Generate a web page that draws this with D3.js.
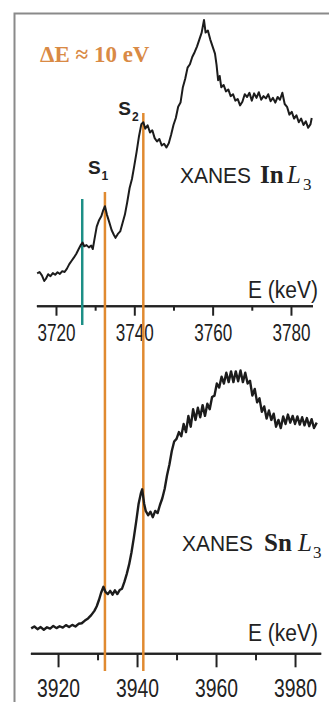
<!DOCTYPE html>
<meta charset="utf-8">
<style>
body { margin: 0; background: #fff; }
.axis path, .axis line { stroke: #222; stroke-width: 2; }
.axis text { font-family: "Liberation Sans", Arial, sans-serif; fill: #222; }
.curve { fill: none; stroke: #1c1c1c; stroke-width: 2; stroke-linejoin: round; }
.sans { font-family: "Liberation Sans", Arial, sans-serif; fill: #222; }
.serif { font-family: "Liberation Serif", "Times New Roman", serif; fill: #222; }
</style>
<body>
<script src="https://d3js.org/d3.v7.min.js"></script>
<script>

// In L3 edge, [energy (eV), normalised absorption]
var inL3 = [
  [3715.2,0.095],[3715.8,0.100],[3716.4,0.088],[3717.0,0.068],[3717.4,0.075],[3718.0,0.092],
  [3718.6,0.085],[3719.2,0.096],[3719.8,0.090],[3720.4,0.099],[3721.0,0.093],[3721.6,0.103],
  [3722.2,0.100],[3722.8,0.112],[3723.4,0.128],[3724.0,0.140],[3724.6,0.152],[3725.2,0.165],
  [3725.8,0.182],[3726.4,0.198],[3726.8,0.205],[3727.2,0.192],[3727.8,0.196],[3728.4,0.188],
  [3729.0,0.194],[3729.4,0.182],[3729.8,0.215],[3730.4,0.262],[3731.0,0.285],[3731.6,0.300],
  [3732.0,0.318],[3732.5,0.335],[3733.0,0.305],[3733.6,0.278],[3734.2,0.250],[3734.8,0.232],
  [3735.2,0.222],[3735.8,0.236],[3736.4,0.245],[3737.0,0.275],[3737.6,0.305],[3738.2,0.350],
  [3738.8,0.400],[3739.4,0.432],[3740.0,0.480],[3740.6,0.530],[3741.2,0.585],[3741.8,0.628],
  [3742.3,0.635],[3742.8,0.612],[3743.4,0.624],[3744.0,0.598],[3744.6,0.606],[3745.2,0.578],
  [3745.8,0.566],[3746.4,0.575],[3747.0,0.552],[3747.6,0.558],[3748.2,0.545],[3748.8,0.560],
  [3749.4,0.590],[3750.0,0.625],[3750.6,0.650],[3751.2,0.690],[3751.8,0.705],[3752.4,0.760],
  [3753.0,0.790],[3753.6,0.830],[3754.2,0.842],[3754.8,0.868],[3755.4,0.885],[3756.0,0.905],
  [3756.6,0.930],[3757.2,0.955],[3757.8,1.000],[3758.2,0.955],[3758.8,0.962],[3759.4,0.930],
  [3760.0,0.905],[3760.6,0.880],[3761.0,0.840],[3761.4,0.785],[3761.8,0.800],[3762.2,0.760],
  [3762.8,0.768],[3763.4,0.745],[3764.0,0.752],[3764.6,0.728],[3765.2,0.735],[3765.8,0.712],
  [3766.4,0.718],[3767.0,0.695],[3767.6,0.708],[3768.2,0.735],[3768.8,0.725],[3769.4,0.740],
  [3770.0,0.712],[3770.6,0.738],[3771.2,0.722],[3771.8,0.742],[3772.4,0.715],[3773.0,0.728],
  [3773.6,0.720],[3774.2,0.735],[3774.8,0.710],[3775.4,0.722],[3776.0,0.705],[3776.6,0.725],
  [3777.2,0.715],[3777.8,0.740],[3778.4,0.700],[3779.0,0.690],[3779.6,0.662],[3780.2,0.672],
  [3780.8,0.648],[3781.4,0.660],[3782.0,0.635],[3782.6,0.648],[3783.2,0.625],[3783.8,0.638],
  [3784.4,0.615],[3785.0,0.628],[3785.3,0.650]
];

// Sn L3 edge
var snL3 = [
  [3913.2,0.043],[3914.0,0.050],[3914.8,0.040],[3915.6,0.048],[3916.4,0.038],[3917.2,0.047],
  [3918.0,0.042],[3918.8,0.052],[3919.6,0.044],[3920.4,0.051],[3921.2,0.046],[3922.0,0.055],
  [3922.8,0.048],[3923.6,0.056],[3924.4,0.050],[3925.2,0.060],[3926.0,0.062],[3926.8,0.072],
  [3927.6,0.080],[3928.4,0.092],[3929.2,0.108],[3929.8,0.125],[3930.4,0.150],[3930.9,0.175],
  [3931.5,0.197],[3932.0,0.178],[3932.6,0.170],[3933.2,0.182],[3933.8,0.168],[3934.4,0.184],
  [3935.0,0.170],[3935.6,0.185],[3936.2,0.190],[3936.8,0.215],[3937.4,0.245],[3938.0,0.280],
  [3938.6,0.325],[3939.2,0.380],[3939.8,0.440],[3940.4,0.505],[3941.0,0.545],[3941.3,0.558],
  [3941.8,0.505],[3942.2,0.478],[3942.8,0.462],[3943.4,0.475],[3944.0,0.455],[3944.6,0.478],
  [3945.2,0.470],[3945.8,0.500],[3946.4,0.525],[3947.0,0.560],[3947.6,0.610],[3948.2,0.650],
  [3948.8,0.700],[3949.4,0.735],[3950.0,0.745],[3950.6,0.770],[3951.2,0.755],[3951.8,0.800],
  [3952.4,0.770],[3953.0,0.830],[3953.6,0.790],[3954.2,0.855],[3954.8,0.815],[3955.4,0.860],
  [3956.0,0.825],[3956.6,0.870],[3957.2,0.830],[3957.8,0.875],[3958.4,0.855],[3959.0,0.900],
  [3959.6,0.905],[3960.2,0.950],[3960.8,0.935],[3961.4,0.975],[3962.0,0.950],[3962.6,0.990],
  [3963.2,0.955],[3963.8,0.995],[3964.4,0.955],[3965.0,0.995],[3965.6,0.958],[3966.2,0.998],
  [3966.8,0.955],[3967.4,0.990],[3968.0,0.950],[3968.6,0.960],[3969.2,0.905],[3969.8,0.930],
  [3970.4,0.880],[3971.0,0.895],[3971.6,0.845],[3972.2,0.865],[3972.8,0.820],[3973.4,0.850],
  [3974.0,0.815],[3974.6,0.838],[3975.2,0.790],[3975.8,0.815],[3976.4,0.785],[3977.0,0.828],
  [3977.6,0.800],[3978.2,0.835],[3978.8,0.805],[3979.4,0.830],[3980.0,0.800],[3980.6,0.828],
  [3981.2,0.798],[3981.8,0.825],[3982.4,0.795],[3983.0,0.822],[3983.6,0.792],[3984.2,0.818],
  [3984.8,0.785],[3985.5,0.805]
];

var inMajor = [3720, 3740, 3760, 3780], inMinor = [3730, 3750, 3770];
var snMajor = [3920, 3940, 3960, 3980], snMinor = [3930, 3950, 3970];

// marker energies (on the In scale)
var edgeE = 3726.7, s1E = 3732.5, s2E = 3742.3;

var svg = d3.select("body").append("svg")
    .attr("width", 329)
    .attr("height", 702);

// frame
svg.append("rect")
    .attr("x", 14.5).attr("y", 13.5)
    .attr("width", 340).attr("height", 720)
    .attr("fill", "none")
    .attr("stroke", "#8a8a8a")
    .attr("stroke-width", 2);

var xIn = d3.scaleLinear().domain([3715, 3785.5]).range([36.4, 312.5]);
var yIn = d3.scaleLinear().domain([0, 1]).range([300, 20]);
var xSn = d3.scaleLinear().domain([3913, 3986.5]).range([30.4, 320.7]);
var ySn = d3.scaleLinear().domain([0, 1]).range([640, 370]);

// the original uses a narrow sans; squeeze the glyphs to match
function drawAxis(x, y0, major, minor, tick, pad, fs, w) {
  svg.append("g").attr("class", "axis")
      .attr("transform", "translate(0," + y0 + ")")
      .call(d3.axisBottom(x).tickValues(minor).tickSize(tick * 0.5).tickSizeOuter(0).tickFormat(""));
  var g = svg.append("g").attr("class", "axis")
      .attr("transform", "translate(0," + y0 + ")")
      .call(d3.axisBottom(x).tickValues(major).tickSize(tick).tickSizeOuter(0).tickPadding(pad).tickFormat(d3.format("d")));
  g.selectAll("text").attr("font-size", fs)
      .attr("textLength", w).attr("lengthAdjust", "spacingAndGlyphs");
}

drawAxis(xIn, 305.7, inMajor, inMinor, 10, 9, 23, 38);
drawAxis(xSn, 653.3, snMajor, snMinor, 14, 12, 25, 43);

// marker lines
var xEdge = xIn(edgeE), xS1 = xIn(s1E), xS2 = xIn(s2E);
svg.append("line")
    .attr("x1", xEdge).attr("x2", xEdge).attr("y1", 199).attr("y2", 325)
    .attr("stroke", "#1d8f86").attr("stroke-width", 2.5);
svg.append("line")
    .attr("x1", xS1).attr("x2", xS1).attr("y1", 192).attr("y2", 671)
    .attr("stroke", "#e08a30").attr("stroke-width", 2.5);
svg.append("line")
    .attr("x1", xS2).attr("x2", xS2).attr("y1", 113).attr("y2", 671)
    .attr("stroke", "#e08a30").attr("stroke-width", 2.5);

// curves
svg.append("path").datum(inL3).attr("class", "curve")
    .attr("d", d3.line().x(function(d) { return xIn(d[0]); }).y(function(d) { return yIn(d[1]); }));
svg.append("path").datum(snL3).attr("class", "curve")
    .style("stroke-width", 2.4)
    .attr("d", d3.line().x(function(d) { return xSn(d[0]); }).y(function(d) { return ySn(d[1]); }));

// labels
svg.append("text")
    .attr("x", 40).attr("y", 62)
    .attr("class", "serif")
    .attr("font-size", 23).attr("font-weight", "bold")
    .style("fill", "#d98a45")
    .text("\u0394E \u2248 10 eV");

function sLabel(x, y, sub) {
  var t = svg.append("text").attr("x", x).attr("y", y)
      .attr("font-family", "Liberation Sans, Arial, sans-serif")
      .attr("font-weight", "bold").attr("font-size", 19).attr("fill", "#222");
  t.append("tspan").text("S");
  t.append("tspan").attr("font-size", 12).attr("dy", 6).attr("dx", 1).text(sub);
}
sLabel(xS1 - 17, 174, "1");
sLabel(xS2 - 25, 115, "2");

function title(x, y, elem, xs) {
  svg.append("text").attr("class", "sans").attr("font-size", 22.5)
      .attr("x", x).attr("y", y)
      .attr("textLength", 71).attr("lengthAdjust", "spacingAndGlyphs")
      .text("XANES");
  var t = svg.append("text").attr("class", "serif").attr("y", y);
  t.append("tspan").attr("x", xs[0]).attr("font-size", 25).attr("font-weight", "bold").text(elem);
  t.append("tspan").attr("x", xs[1]).attr("font-size", 25).attr("font-style", "italic").text("L");
  t.append("tspan").attr("x", xs[2]).attr("font-size", 17).attr("dy", 7).text("3");
}
title(180, 183, "In", [260, 287, 303]);
title(182, 551, "Sn", [264, 298, 313]);

svg.append("text").attr("class", "sans").attr("font-size", 23)
    .attr("x", 248).attr("y", 298)
    .attr("textLength", 70).attr("lengthAdjust", "spacingAndGlyphs").text("E (keV)");
svg.append("text").attr("class", "sans").attr("font-size", 23)
    .attr("x", 248).attr("y", 641)
    .attr("textLength", 70).attr("lengthAdjust", "spacingAndGlyphs").text("E (keV)");

</script>
</body>
